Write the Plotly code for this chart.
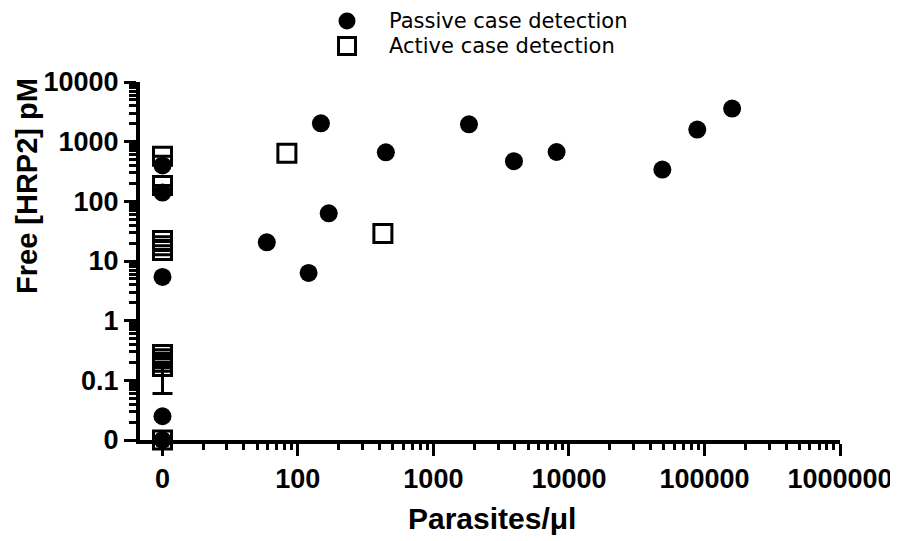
import numpy as np
import plotly.graph_objects as go

# Passive case detection, parasite count > 0
passive_parasites = [59, 120, 148, 169, 446, 1830, 3930, 8110, 48900, 88500, 160000]
passive_hrp2 = [20.6, 6.3, 2030, 63, 664, 1955, 470, 671, 341, 1595, 3580]
# Passive case detection, parasite count = 0
passive_zero_hrp2 = [400, 140, 5.4, 0.025, 0]

# Active case detection, parasite count > 0
active_parasites = [83, 424]
active_hrp2 = [640, 29]
# Active case detection, parasite count = 0
active_zero_hrp2 = [570, 185, 22, 18, 15, 0.27, 0.23, 0.2, 0.17, 0]
active_zero_err_minus = [0, 0, 0, 0, 0, 0, 0, 0, 0.11, 0]

y_tick_vals = [0.01, 0.1, 1, 10, 100, 1000, 10000]
y_tick_text = ['0', '0.1', '1', '10', '100', '1000', '10000']
x_tick_vals = [100, 1000, 10000, 100000, 1000000]
x_tick_text = ['100', '1000', '10000', '100000', '1000000']

legend_names = ['Passive case detection', 'Active case detection']

ZERO_POS = 0.01  # where "0" sits on the log y axis


def on_axis(vals):
  return [ZERO_POS if v == 0 else v for v in vals]


def log_minors(lo, hi):
  return [k * 10.0 ** e for e in range(lo, hi) for k in range(2, 10)]


FONT = 'Liberation Sans, Arial'
tick_font = dict(family=FONT, size=27, color='black', weight='bold')
dot = dict(symbol='circle', size=18, color='black', line=dict(width=0))
box = dict(symbol='square-open', size=18, color='black', line=dict(width=3, color='black'))

data = [
  go.Scatter(x=[0] * len(passive_zero_hrp2), y=on_axis(passive_zero_hrp2), mode='markers',
             marker=dot, xaxis='x', yaxis='y', cliponaxis=False),
  go.Scatter(x=[0] * len(active_zero_hrp2), y=on_axis(active_zero_hrp2), mode='markers',
             marker=box, xaxis='x', yaxis='y', cliponaxis=False,
             error_y=dict(type='data', symmetric=False, array=[0] * len(active_zero_hrp2),
                          arrayminus=active_zero_err_minus, color='black', thickness=3, width=10)),
  go.Scatter(x=passive_parasites, y=passive_hrp2, mode='markers', name=legend_names[0],
             marker=dot, xaxis='x2', yaxis='y'),
  go.Scatter(x=active_parasites, y=active_hrp2, mode='markers', name=legend_names[1],
             marker=box, xaxis='x2', yaxis='y'),
]

fig = go.Figure(data=data)

# the page body adds an 8px offset, so the figure is drawn 8px smaller
OFF = 8
W, H = 898 - OFF, 541 - OFF
L, T = 140 - OFF, 82 - OFF
R, B = W - (840 - OFF), H - (440 - OFF)
PW, PH = W - L - R, H - T - B
split = 45 / PW


def px_x(px):
  return (px - OFF - L) / PW


def px_y(py):
  return (H - B - (py - OFF)) / PH


axis_common = dict(showline=True, linewidth=4, linecolor='black', ticks='outside',
                   ticklen=12, tickwidth=3, tickcolor='black', showgrid=False,
                   zeroline=False, tickfont=tick_font, automargin=False)

legend_rows = [21, 46]

# hand-made legend key (circle / open square) beside the text entries
shapes = [
  dict(type='circle', xref='paper', yref='paper', xsizemode='pixel', ysizemode='pixel',
       xanchor=px_x(347), yanchor=px_y(legend_rows[0]), x0=-8.5, x1=8.5, y0=-8.5, y1=8.5,
       fillcolor='black', line=dict(width=0)),
  dict(type='rect', xref='paper', yref='paper', xsizemode='pixel', ysizemode='pixel',
       xanchor=px_x(347), yanchor=px_y(legend_rows[1]), x0=-8.5, x1=8.5, y0=-8.5, y1=8.5,
       fillcolor='rgba(0,0,0,0)', line=dict(width=3, color='black')),
]

legend_font = dict(family='DejaVu Sans', size=21, color='black')
annotations = [
  dict(text=name, xref='paper', yref='paper', x=px_x(387), y=px_y(row),
       xanchor='left', yanchor='middle', showarrow=False, font=legend_font)
  for name, row in zip(legend_names, legend_rows)
]
annotations += [
  dict(text='Parasites/μl', xref='paper', yref='paper', x=px_x(492), y=px_y(518),
       xanchor='center', yanchor='middle', showarrow=False,
       font=dict(family=FONT, size=30, color='black', weight='bold')),
  dict(text='Free [HRP2] pM', xref='paper', yref='paper', x=px_x(27), y=px_y(186),
       xanchor='center', yanchor='middle', showarrow=False, textangle=-90,
       font=dict(family=FONT, size=29, color='black', weight='bold')),
]

fig.update_layout(
  width=W, height=H,
  margin=dict(l=L, r=R, t=T, b=B, autoexpand=False),
  plot_bgcolor='white', paper_bgcolor='white',
  showlegend=False,
  xaxis=dict(domain=[0, split], range=[-1, 1], tickmode='array', tickvals=[0],
             ticktext=['0'], anchor='y', **axis_common),
  xaxis2=dict(domain=[split, 1], type='log', range=[np.log10(14.7), 6], anchor='y',
              tickmode='array', tickvals=x_tick_vals, ticktext=x_tick_text,
              minor=dict(tickmode='array', tickvals=log_minors(1, 6), ticks='outside',
                         ticklen=6, tickwidth=3, tickcolor='black', showgrid=False),
              **axis_common),
  yaxis=dict(type='log', range=[-2, 4], anchor='x', tickmode='array',
             tickvals=y_tick_vals, ticktext=y_tick_text,
             minor=dict(tickmode='array', tickvals=log_minors(-2, 4), ticks='outside',
                        ticklen=7, tickwidth=3, tickcolor='black', showgrid=False),
             **axis_common),
  shapes=shapes,
  annotations=annotations,
)

fig.write_html('out.html')
